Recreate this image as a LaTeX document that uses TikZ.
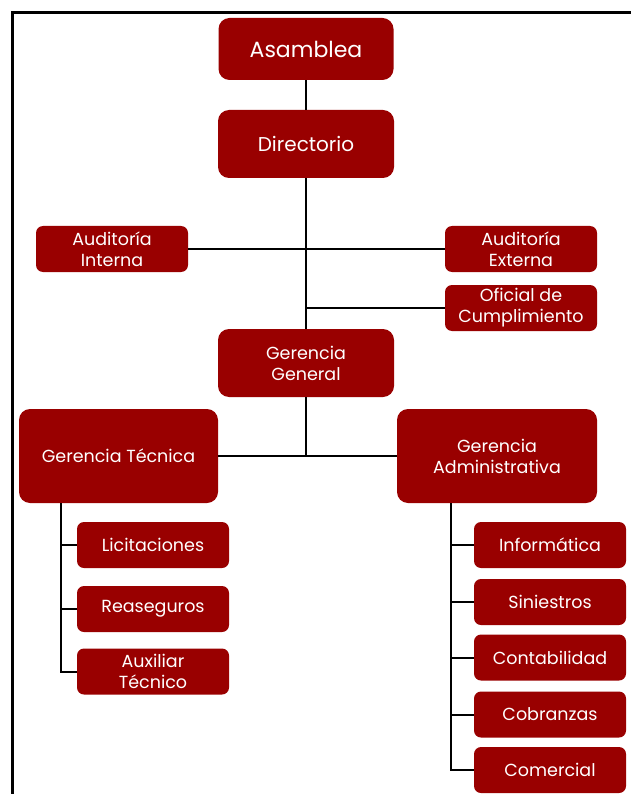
\documentclass[tikz,border=0pt]{standalone}
\usepackage{fontspec}
\setmainfont{Poppins}
\usepackage{xcolor}
\definecolor{unitred}{RGB}{153,0,0}
\usetikzlibrary{calc}

\tikzset{
  unit/.style={fill=unitred, text=white, rounded corners=7pt, align=center,
    inner sep=0pt, minimum width=152pt, minimum height=46pt,
    font=\fontsize{17.5}{21}\selectfont},
  bigunit/.style={unit, rounded corners=11pt, minimum width=176pt, minimum height=68pt},
  link/.style={line width=2pt, black}
}

\begin{document}
\begin{tikzpicture}[x=1pt,y=-1pt]
  \useasboundingbox (0,0) rectangle (631,794);

  % Frame
  \draw[line width=3pt] (12,794) -- (12,13) -- (631,13);

  % Top of the chart
  \node[bigunit, minimum width=175pt, minimum height=62pt, font=\fontsize{22}{26}\selectfont] (asm) at (306,49) {Asamblea};
  \node[bigunit, font=\fontsize{20}{24}\selectfont] (dir) at (306,144) {Directorio};
  \node[unit] (ai) at (112,249) {Auditoría\\Interna};
  \node[unit] (ae) at (521,249) {Auditoría\\Externa};
  \node[unit] (ofc) at (521,308) {Oficial de\\Cumplimiento};
  \node[bigunit] (gg) at (306,363) {Gerencia\\General};

  % Managements
  \node[bigunit, minimum width=199pt, minimum height=94pt] (gt) at (118.5,456) {Gerencia Técnica};
  \node[bigunit, minimum width=200pt, minimum height=94pt] (ga) at (497,456) {Gerencia\\Administrativa};

  % Departments
  \foreach \name/\y/\label in {lic/545/Licitaciones, rea/609/Reaseguros, aux/671.5/Auxiliar\\Técnico}
    \node[unit] (\name) at (153,\y) {\label};
  \foreach \name/\y/\label in {inf/545/Informática, sin/602/Siniestros, con/657.5/Contabilidad,
    cob/714.5/Cobranzas, com/770/Comercial}
    \node[unit] (\name) at (550,\y) {\label};

  % Connectors
  \draw[link] (asm.south) -- (dir.north);
  \draw[link] (dir.south) -- (gg.north);
  \draw[link] (ai.east) -- (ae.west);
  \draw[link] (ofc.west) -- (ofc.west -| gg.north);
  \draw[link] (gt.east) -- (ga.west);
  \draw[link] (gg.south) -- (gg.south |- gt.east);

  \coordinate (tl) at (61,503);
  \coordinate (tr) at (451,503);
  \draw[link] (tl) |- (aux.west);
  \foreach \name in {lic,rea}
    \draw[link] (\name.west) -- (\name.west -| tl);
  \draw[link] (tr) |- (com.west);
  \foreach \name in {inf,sin,con,cob}
    \draw[link] (\name.west) -- (\name.west -| tr);
\end{tikzpicture}
\end{document}
